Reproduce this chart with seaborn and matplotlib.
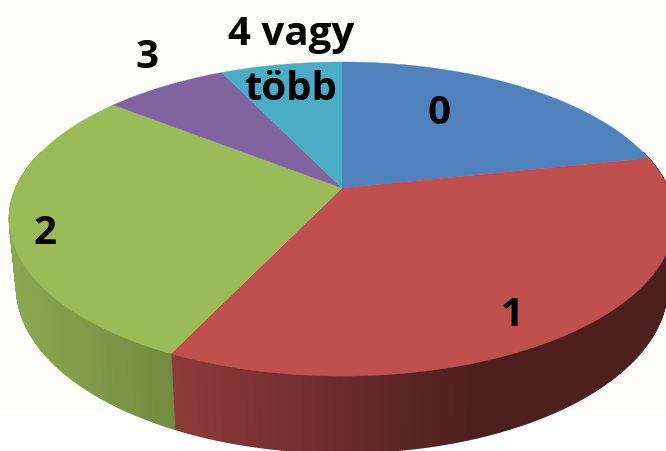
import numpy as np
import matplotlib
matplotlib.use("Agg")
import matplotlib.pyplot as plt
import seaborn as sns

categories = ["0", "1", "2", "3", "4 vagy\ntöbb"]
shares = [21.7, 35.4, 28.5, 7.25, 7.15]
slice_colors = ["#4F81BD", "#C0504D", "#9BBB59", "#8064A2", "#4BACC6"]

sns.set_theme(style="white")
plt.rcParams["font.family"] = ["Open Sans", "DejaVu Sans"]


# perspective view of the unit circle, angle runs clockwise from the top
def project(t, cx, cy, a, b, k):
    u, v = np.sin(t), np.cos(t)
    w = 1 + k * v
    return cx + a * u / w, cy - b * v / w


def top_rim(t):
    return project(t, 342, 188, 326, 150.9, 0.1975)


def bottom_rim(t):
    return project(t, 342, 254, 319, 159.5, 0.1975)


def side_shade(x):
    return np.interp(x, [10, 170, 333, 470, 666], [0.90, 0.74, 0.56, 0.40, 0.40])


fig, ax = plt.subplots(figsize=(6.66, 4.51), dpi=100)
fig.subplots_adjust(0, 0, 1, 1)
ax.set_xlim(0, 666)
ax.set_ylim(451, 0)
ax.axis("off")
ax.axhspan(0, 410, color="#FDFEFA", lw=0, zorder=0)

edges = np.radians(np.cumsum([0] + shares) / np.sum(shares) * 360)
palette = sns.color_palette(slice_colors)

# side wall first, thin strips so the shade changes along x
for i, color in enumerate(palette):
    n = max(int(np.degrees(edges[i + 1] - edges[i]) * 4), 2)
    ts = np.linspace(edges[i], edges[i + 1], n + 1)
    for t0, t1 in zip(ts[:-1], ts[1:]):
        if np.cos((t0 + t1) / 2) > 0.25:
            continue
        x0, y0 = top_rim(np.array([t0, t1]))
        x1, y1 = bottom_rim(np.array([t1, t0]))
        shade = side_shade((x0.mean() + x1.mean()) / 2)
        c = tuple(np.array(color) * shade)
        ax.fill(np.r_[x0, x1], np.r_[y0, y1], color=c, lw=1.0, zorder=1)

# top face
for i, color in enumerate(palette):
    ts = np.linspace(edges[i], edges[i + 1], 120)
    x, y = top_rim(ts)
    ax.fill(np.r_[342, x], np.r_[188, y], color=color, lw=0.3, zorder=2)

label_x = [439, 512, 45, 147, 291]
label_y = [113, 315, 233, 58, 62]
for name, lx, ly in zip(categories, label_x, label_y):
    ax.text(lx, ly, name, ha="center", va="center", fontsize=29, fontweight="bold",
            color="black", linespacing=1.5, zorder=3)

fig.savefig("out.png", dpi=100)
